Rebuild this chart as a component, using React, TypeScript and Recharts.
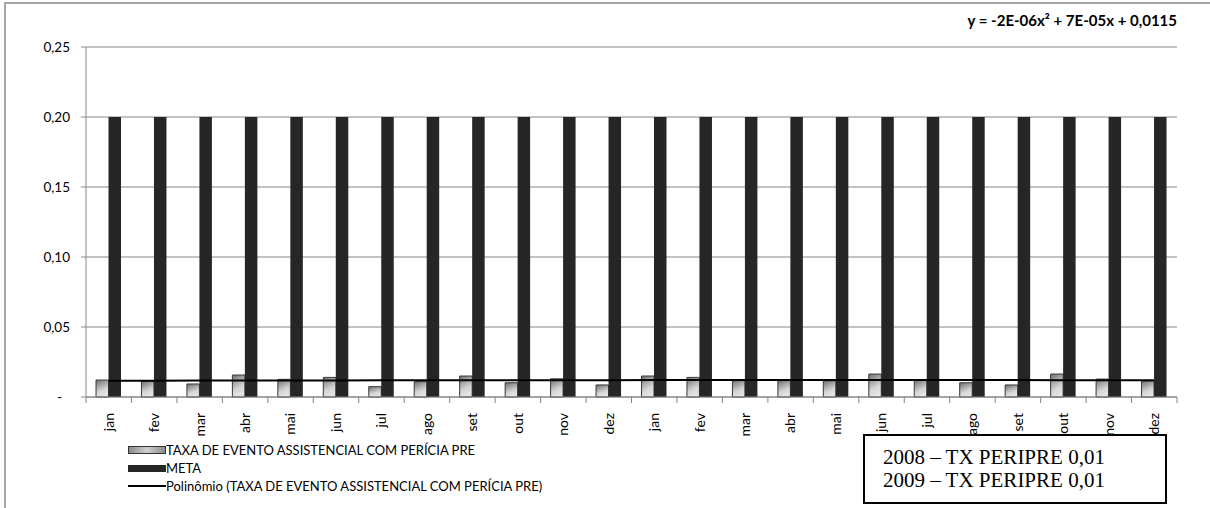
import React from 'react';
import { ComposedChart, Bar, Line, XAxis, YAxis, CartesianGrid } from 'recharts';

const months = ['jan', 'fev', 'mar', 'abr', 'mai', 'jun', 'jul', 'ago', 'set', 'out', 'nov', 'dez',
  'jan', 'fev', 'mar', 'abr', 'mai', 'jun', 'jul', 'ago', 'set', 'out', 'nov', 'dez'];
const taxa = [0.0121, 0.0112, 0.0093, 0.0157, 0.0126, 0.014, 0.0074, 0.011, 0.015, 0.0102, 0.013, 0.0086,
  0.015, 0.014, 0.0117, 0.0117, 0.0116, 0.0164, 0.012, 0.0102, 0.0086, 0.0164, 0.0128, 0.0114];
const meta = [0.2, 0.2, 0.2, 0.2, 0.2, 0.2, 0.2, 0.2, 0.2, 0.2, 0.2, 0.2,
  0.2, 0.2, 0.2, 0.2, 0.2, 0.2, 0.2, 0.2, 0.2, 0.2, 0.2, 0.2];
const trend = [0.0116, 0.0116, 0.0117, 0.0117, 0.0118, 0.0118, 0.0119, 0.0119, 0.0119, 0.012, 0.012, 0.012,
  0.0121, 0.0121, 0.0121, 0.0121, 0.0121, 0.0121, 0.0121, 0.0121, 0.0121, 0.012, 0.012, 0.012];
const yTicks = [0, 0.05, 0.1, 0.15, 0.2, 0.25];
const boxLines = ['2008 – TX PERIPRE 0,01', '2009 – TX PERIPRE 0,01'];

const data = months.map((m, i) => ({ month: m, taxa: taxa[i], meta: meta[i], trend: trend[i] }));

const FONT = 'Lato, "Open Sans", sans-serif';
const AXIS = '#868686';
const PLOT_LEFT = 86;
const PLOT_RIGHT = 1177;
const PLOT_TOP = 47;
const PLOT_BOTTOM = 397;
const BAND = (PLOT_RIGHT - PLOT_LEFT) / months.length;

const fmt = (v: number) => (v === 0 ? '-' : v.toFixed(2).replace('.', ','));

const XTick = (props: any) => {
  const { x, y, payload, index } = props;
  const left = x - BAND / 2;
  return (
    <g>
      <line x1={left} x2={left} y1={PLOT_BOTTOM} y2={PLOT_BOTTOM + 6} stroke={AXIS} />
      {index === months.length - 1 && (
        <line x1={x + BAND / 2} x2={x + BAND / 2} y1={PLOT_BOTTOM} y2={PLOT_BOTTOM + 6} stroke={AXIS} />
      )}
      <text x={x} y={y} dy="0.35em" transform={`rotate(-90, ${x}, ${y})`} textAnchor="end"
        fontSize={14} fontFamily={FONT} fill="#000">
        {payload.value}
      </text>
    </g>
  );
};

const YTick = (props: any) => {
  const { x, y, payload } = props;
  return (
    <text x={payload.value === 0 ? x - 8 : x} y={y} dy="0.35em" textAnchor="end"
      fontSize={13.5} fontFamily={FONT} fill="#000">
      {fmt(payload.value)}
    </text>
  );
};

export default function App() {
  return (
    <div style={{ position: 'absolute', left: 0, top: 0, width: 1210, height: 508, background: '#fff', fontFamily: FONT }}>
      <div style={{ position: 'absolute', left: 4, top: 2, right: 0, bottom: 0, borderTop: '2px solid #a6a6a6', borderLeft: '2px solid #a6a6a6' }} />
      <ComposedChart width={1210} height={508} data={data} barGap={0} barSize={12.5}
        margin={{ top: PLOT_TOP, right: 1210 - PLOT_RIGHT, bottom: 0, left: 0 }}>
        <defs>
          <linearGradient id="gTaxa" x1="0" y1="0" x2="0.35" y2="1">
            <stop offset="0%" stopColor="#6e6e6e" />
            <stop offset="70%" stopColor="#d6d6d6" />
            <stop offset="100%" stopColor="#e4e4e4" />
          </linearGradient>
        </defs>
        <CartesianGrid vertical={false} stroke={AXIS} />
        <XAxis dataKey="month" height={508 - PLOT_BOTTOM} tickSize={6} tickMargin={10} tickLine={false}
          axisLine={{ stroke: AXIS }} interval={0} tick={<XTick />} />
        <YAxis width={PLOT_LEFT} domain={[0, 0.25]} ticks={yTicks} tickSize={5} tickMargin={11}
          axisLine={{ stroke: AXIS }} tickLine={{ stroke: AXIS }} tick={<YTick />} />
        <Bar dataKey="taxa" fill="url(#gTaxa)" stroke="#3a3a3a" strokeWidth={1} isAnimationActive={false} />
        <Bar dataKey="meta" fill="#262626" isAnimationActive={false} />
        <Line dataKey="trend" stroke="#000" strokeWidth={2} dot={false} activeDot={false} isAnimationActive={false} />
      </ComposedChart>

      <div style={{ position: 'absolute', right: 1210 - PLOT_RIGHT, top: 11, fontSize: 15, fontWeight: 'bold', color: '#000' }}>
        y = -2E-06x² + 7E-05x + 0,0115
      </div>

      <div style={{ position: 'absolute', left: 128, top: 441, fontSize: 13, color: '#000', lineHeight: '18px' }}>
        <div style={{ display: 'flex', alignItems: 'center' }}>
          <span style={{ display: 'inline-block', width: 36, height: 6, border: '1px solid #333', background: 'linear-gradient(90deg,#8a8a8a,#d0d0d0,#8a8a8a)' }} />
          <span>TAXA DE EVENTO ASSISTENCIAL COM PERÍCIA PRE</span>
        </div>
        <div style={{ display: 'flex', alignItems: 'center' }}>
          <span style={{ display: 'inline-block', width: 38, height: 7, background: '#262626' }} />
          <span>META</span>
        </div>
        <div style={{ display: 'flex', alignItems: 'center' }}>
          <span style={{ display: 'inline-block', width: 38, height: 2, background: '#000' }} />
          <span>Polinômio (TAXA DE EVENTO ASSISTENCIAL COM PERÍCIA PRE)</span>
        </div>
      </div>

      <div style={{ position: 'absolute', left: 863, top: 434, width: 304, height: 70, border: '2px solid #000', background: '#fff',
        fontFamily: '"Liberation Serif", "Times New Roman", serif', fontSize: 21, lineHeight: '23px', padding: '10px 0 0 18px', boxSizing: 'border-box', color: '#000' }}>
        {boxLines.map((l) => <div key={l}>{l}</div>)}
      </div>
    </div>
  );
}
